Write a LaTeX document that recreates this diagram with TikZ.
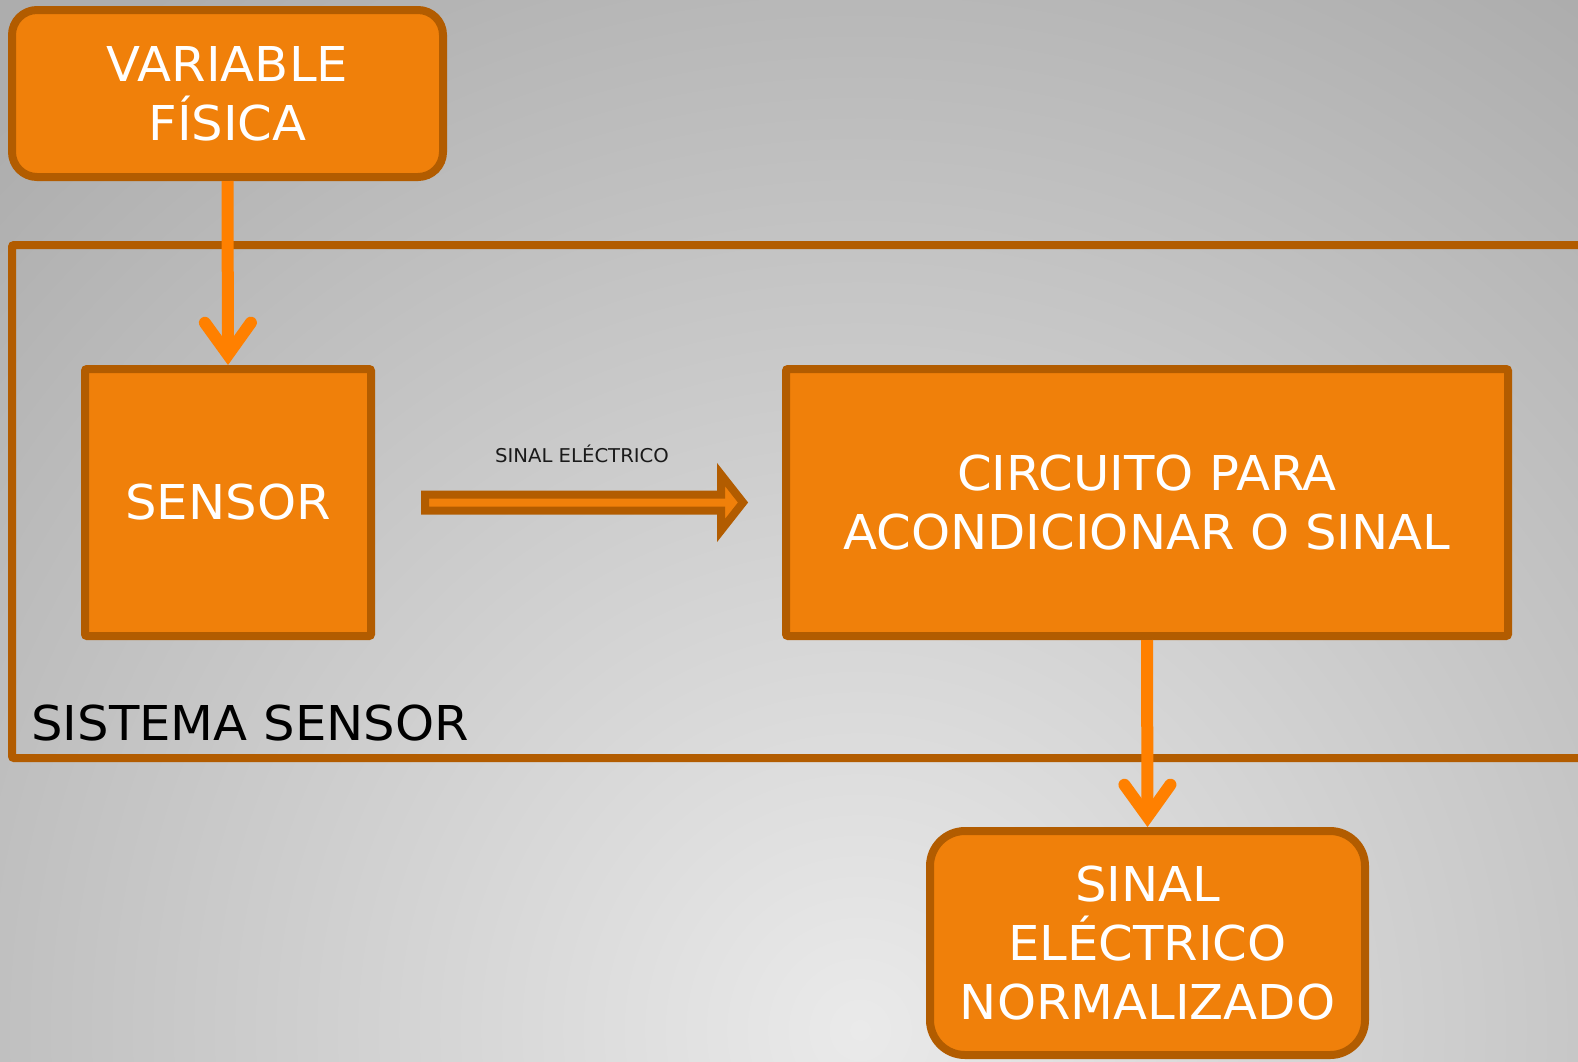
\documentclass[tikz,border=0pt]{standalone}
\usepackage{fontspec}
\setmainfont[FakeStretch=1.035]{DejaVu Sans}
\usetikzlibrary{arrows.meta,calc}
\definecolor{boxfill}{HTML}{F0800A}
\definecolor{boxline}{HTML}{B25C00}
\definecolor{arrowc}{HTML}{FF8000}
\definecolor{bglight}{HTML}{EAEAEA}
\definecolor{bgdark}{HTML}{ADADAD}
\definecolor{labelc}{HTML}{1A1A1A}
\begin{document}
\begin{tikzpicture}[x=0.5pt,y=-0.5pt,
  box/.style={draw=boxline, fill=boxfill, line width=4pt, text=white, align=center,
    inner sep=0pt, font=\fontsize{24}{29.5}\selectfont},
  flow/.style={draw=arrowc, line width=6pt,
    -{Straight Barb[length=16pt,width=23pt,line cap=round,line join=miter]}},
  hollow/.style={draw=boxline, fill=boxfill, line width=4pt, line join=miter}]
\useasboundingbox (0,0) rectangle (1578,1061);
\begin{scope}
  \clip (0,0) rectangle (1578,1061);
  \fill[bgdark] (0,0) rectangle (1578,1061);
  \shade[inner color=bglight, outer color=bgdark] (860,1030) circle (1250);
  % frame of the sensor system
  \draw[boxline, line width=4pt, rounded corners=1pt] (12,245) rectangle (1640,758);
\end{scope}
\node[anchor=base west, inner sep=0pt, font=\fontsize{24}{29.5}\selectfont, text=black] (sys) at (31,740) {SISTEMA SENSOR};

\node[box, rounded corners=12.5pt, minimum width=215.5pt, minimum height=83.5pt] (var) at (227.5,93.5) {VARIABLE\\FÍSICA};
\node[box, rounded corners=1pt, minimum width=143pt, minimum height=133.5pt] (sensor) at (228,502.5) {SENSOR};
\node[box, rounded corners=1pt, minimum width=361pt, minimum height=133.5pt] (circ) at (1147,502.5) {CIRCUITO PARA\\ACONDICIONAR O SINAL};
\node[box, rounded corners=17.5pt, minimum width=217.5pt, minimum height=112pt] (out) at (1147.5,943) {SINAL\\ELÉCTRICO\\NORMALIZADO};

\draw[flow] (var.south) -- (sensor.north);
\draw[flow] (circ.south) -- (out.north);

\coordinate (sig) at (sensor.east);
\draw[hollow] ($(sig)+(50,-8)$) -- ++(296,0) -- ++(0,-20) -- ($(sig)+(368,0)$)
  -- ($(sig)+(346,28)$) -- ++(0,-20) -- ($(sig)+(50,8)$) -- cycle;
\node[anchor=base, inner sep=0pt, font=\fontsize{9.5}{11}\selectfont, text=labelc] (lab) at (582,462) {SINAL ELÉCTRICO};
\end{tikzpicture}
\end{document}
